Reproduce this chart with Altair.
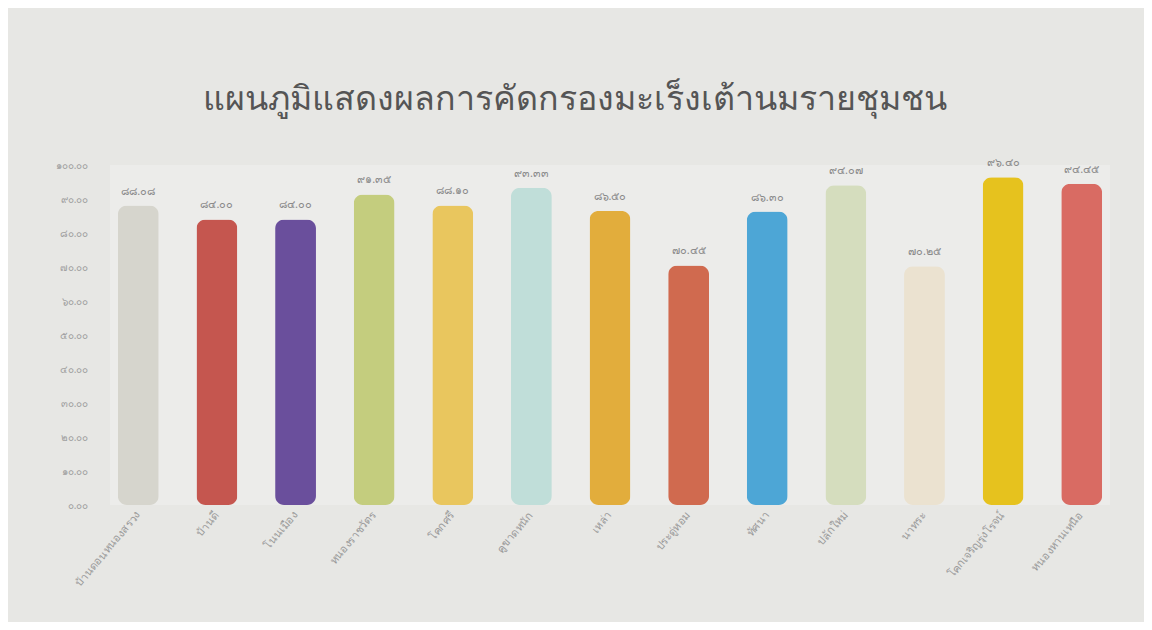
import altair as alt
import pandas as pd

communities = [
    "บ้านดอนหนองสรวง", "บ้านดี", "โนนเมือง", "หนองราชวัตร", "โคกศรี",
    "คูขาดหนัก", "เหล่า", "ประดู่หอม", "ทัศนา", "ปลักใหม่",
    "นาทระ", "โคกเจริญรุ่งโรจน์", "หนองหานเหนือ",
]
values = [88.08, 84.00, 84.00, 91.35, 88.10, 93.33, 86.50, 70.45, 86.30, 94.07, 70.25, 96.40, 94.45]
colors = [
    "#d6d5cd", "#c5564f", "#6a4f9c", "#c4cd7e", "#e9c65e", "#c0ded9", "#e2ad3c",
    "#d06a4f", "#4da6d6", "#d5ddbe", "#ebe2d0", "#e6c21e", "#d96b63",
]

thai_digits = "๐๑๒๓๔๕๖๗๘๙"


def to_thai(s):
    return "".join(thai_digits[int(c)] if c.isdigit() else c for c in s)


df = pd.DataFrame({
    "community": communities,
    "value": values,
    "label": [to_thai(f"{v:.2f}") for v in values],
})

expr = "format(datum.value, '.2f')"
for i, d in enumerate(thai_digits):
    expr = f"replace({expr}, regexp('{i}', 'g'), '{d}')"

base = alt.Chart(df).encode(
    x=alt.X(
        "community:N",
        sort=communities,
        title=None,
        scale=alt.Scale(paddingInner=0.48, paddingOuter=0.1),
        axis=alt.Axis(
            labelAngle=-50, labelColor="#9a9a9a", labelFontSize=11,
            labelFont="Noto Sans", domain=False, ticks=False, labelPadding=8,
        ),
    ),
    y=alt.Y(
        "value:Q",
        title=None,
        scale=alt.Scale(domain=[0, 100]),
        axis=alt.Axis(
            values=list(range(0, 101, 10)), labelExpr=expr, labelColor="#a0a0a0",
            labelFontSize=10, labelFont="Noto Sans", domain=False, ticks=False,
            grid=False, labelPadding=22,
        ),
    ),
)

bars = base.mark_bar(cornerRadius=9).encode(
    color=alt.Color("community:N", sort=communities,
                    scale=alt.Scale(domain=communities, range=colors), legend=None)
)

text = base.mark_text(dy=-14, fontSize=11, color="#8a8a8a", font="Noto Sans").encode(
    text="label:N"
)

chart = (
    (bars + text)
    .properties(
        width=1000,
        height=340,
        padding={"left": 102, "top": 157, "right": 34, "bottom": 117},
        autosize=alt.AutoSizeParams(type="none"),
        background="#e7e7e4",
        title=alt.TitleParams(
            "แผนภูมิแสดงผลการคัดกรองมะเร็งเต้านมรายชุมชน",
            fontSize=34, font="Noto Sans", color="#555555", fontWeight="normal",
            anchor="middle", offset=40, dx=-35,
        ),
    )
    .configure_view(fill="#ececea", stroke=None)
)

chart.save("out.html", embed_options={"renderer": "svg", "actions": False})
